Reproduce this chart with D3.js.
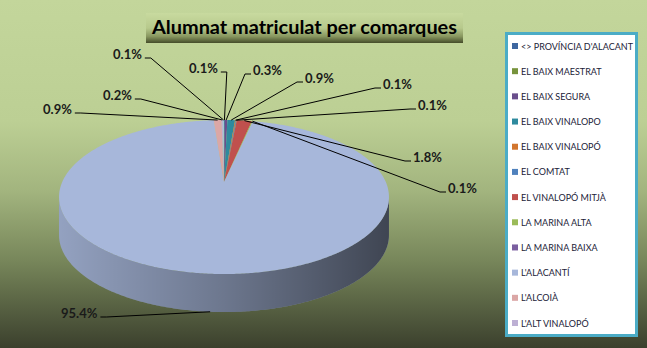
<!DOCTYPE html>
<html>
<head>
<meta charset="utf-8">
<script src="https://cdn.jsdelivr.net/npm/d3@7"></script>
<style>
  body { margin: 0; background: #fff; }
  svg { display: block; }
</style>
</head>
<body>
<div id="chart-area"></div>
<script>
var width = 647;
var height = 348;

// data (clockwise from 12 o'clock, Excel order)
var names = ["<> PROVÍNCIA D'ALACANT", "EL BAIX MAESTRAT", "EL BAIX SEGURA", "EL BAIX VINALOPO",
    "EL BAIX VINALOPÓ", "EL COMTAT", "EL VINALOPÓ MITJÀ", "LA MARINA ALTA", "LA MARINA BAIXA",
    "L'ALACANTÍ", "L'ALCOIÀ", "L'ALT VINALOPÓ"];
// last slice belongs to a row that falls below the clipped legend
var shares = [0.1, null, 0.3, 0.9, 0.1, 0.1, 1.8, 0.1, null, 95.4, 0.9, 0.2, 0.1];
var sliceColors = ["#3e67a0", "#77933c", "#6a4e8c", "#2e8a9e", "#d2762e", "#4f81bd", "#c0504d",
    "#9bbb59", "#7b5fa0", "#a7b7da", "#dba7a6", "#bdb0d4", "#93cddd"];
var title = "Alumnat matriculat per comarques";

// label text positions (left x, baseline y), one per labelled slice, in slice order
var labelAt = [[189, 73], [253, 75], [305, 83], [383, 89], [418, 110], [413, 162], [448, 193],
    [61, 318], [43, 114], [103, 100], [113, 59]];

var svg = d3.select("#chart-area").append("svg")
    .attr("width", width)
    .attr("height", height);

var defs = svg.append("defs");

var bg = defs.append("linearGradient").attr("id", "bg")
    .attr("x1", 0).attr("y1", 0).attr("x2", 0).attr("y2", 1);
[[0, "#c3d69b"], [0.35, "#bccf94"], [0.55, "#a2b47e"], [0.75, "#77865a"], [1, "#3b402d"]]
    .forEach((s) => { bg.append("stop").attr("offset", s[0]).attr("stop-color", s[1]); });

var tg = defs.append("linearGradient").attr("id", "titlebg")
    .attr("x1", 0).attr("y1", 0).attr("x2", 0).attr("y2", 1);
[[0, "#c8da9f"], [0.5, "#b7c98c"], [0.78, "#88975f"], [1, "#454c2a"]]
    .forEach((s) => { tg.append("stop").attr("offset", s[0]).attr("stop-color", s[1]); });

var sg = defs.append("linearGradient").attr("id", "side")
    .attr("gradientUnits", "userSpaceOnUse")
    .attr("x1", 60).attr("y1", 0).attr("x2", 388).attr("y2", 0);
[[0, 0.12], [0.5, 0.35], [1, 0.62]]
    .forEach((s) => { sg.append("stop").attr("offset", s[0]).attr("stop-color", "#000").attr("stop-opacity", s[1]); });

svg.append("rect")
    .attr("width", width)
    .attr("height", height)
    .attr("fill", "url(#bg)");

// title
svg.append("rect")
    .attr("x", 146).attr("y", 13)
    .attr("width", 317).attr("height", 30)
    .attr("fill", "url(#titlebg)");

svg.append("text")
    .attr("x", 152)
    .attr("y", 34)
    .attr("font-family", "Lato, 'Open Sans', sans-serif")
    .attr("font-weight", "bold")
    .attr("font-size", "19px")
    .attr("textLength", 305)
    .attr("lengthAdjust", "spacingAndGlyphs")
    .attr("fill", "#000")
    .text(title);

// 3D pie with perspective
var cx = 224, cy = 182, A = 161.8, B = 74.1, k = 0.195, depth = 38;

function proj(a, dy) {
    var w = 1 + k * Math.cos(a);
    return [cx + A * Math.sin(a) / w, cy - B * Math.cos(a) / w + (dy || 0)];
}

function arcPts(a0, a1, dy) {
    var n = Math.max(2, Math.ceil((a1 - a0) / 0.01));
    return d3.range(n + 1).map((i) => { return proj(a0 + (a1 - a0) * i / n, dy); });
}

var color = d3.scaleOrdinal()
    .domain(d3.range(shares.length))
    .range(sliceColors);

var pie = d3.pie()
    .sort(null)
    .value((d) => { return d || 0; });

var arcs = pie(shares).map((d, i) => { d.index = i; return d; });
var line = d3.line();

var frontLo = Math.acos(-k), frontHi = 2 * Math.PI - Math.acos(-k);

var gPie = svg.append("g");

// side wall (front half only)
arcs.forEach((d) => {
    var lo = Math.max(d.startAngle, frontLo), hi = Math.min(d.endAngle, frontHi);
    if (hi <= lo) return;
    var pts = arcPts(lo, hi, 0).concat(arcPts(lo, hi, depth).reverse());
    gPie.append("path").attr("d", line(pts) + "Z").attr("fill", color(d.index));
    gPie.append("path").attr("d", line(pts) + "Z").attr("fill", "url(#side)");
});

// top face
arcs.forEach((d) => {
    if (d.endAngle <= d.startAngle) return;
    var pts = [[cx, cy]].concat(arcPts(d.startAngle, d.endAngle, 0));
    gPie.append("path")
        .attr("d", line(pts) + "Z")
        .attr("fill", color(d.index));
});

// data labels with leader lines
var labelled = arcs.filter((d) => { return d.data != null; });
var fmt = d3.format(".1f");
var gLab = svg.append("g");

labelled.forEach((d, i) => {
    var mid = (d.startAngle + d.endAngle) / 2;
    var inFront = mid > frontLo && mid < frontHi;
    var p = proj(mid, inFront ? depth : 0);
    var pos = labelAt[i];

    var t = gLab.append("text")
        .attr("x", pos[0])
        .attr("y", pos[1])
        .attr("font-family", "Lato, 'Open Sans', sans-serif")
        .attr("font-weight", "bold")
        .attr("font-size", "13px")
        .attr("fill", "#1a1a1a")
        .text(fmt(d.data) + "%");
    var w = t.node().getComputedTextLength();

    var sx, ex, ly = pos[1] - 1;
    if (pos[0] + w / 2 < p[0]) { sx = pos[0] + w + 3; ex = sx + 6; }
    else { sx = pos[0] - 2; ex = sx - 6; }
    if (Math.abs(p[0] - (pos[0] + w / 2)) < 12) { ex = sx; }

    gLab.append("path")
        .attr("d", line([[sx, ly], [ex, ly], p]))
        .attr("fill", "none")
        .attr("stroke", "#000")
        .attr("stroke-width", 1);
});

// legend
var legend = svg.append("g");

legend.append("rect")
    .attr("x", 506.5).attr("y", 33.5)
    .attr("width", 130).attr("height", 302)
    .attr("fill", "#fff")
    .attr("stroke", "#4bacc6")
    .attr("stroke-width", 3);

var ly = d3.scalePoint()
    .domain(names)
    .range([46, 323]);

var items = legend.selectAll("g.item")
    .data(names)
    .enter()
    .append("g")
        .attr("class", "item")
        .attr("transform", (d) => { return "translate(0," + ly(d) + ")"; });

items.append("rect")
    .attr("x", 512).attr("y", -3)
    .attr("width", 6).attr("height", 6)
    .attr("fill", (d, i) => { return color(i); });

items.append("text")
    .attr("x", 521)
    .attr("y", 3.5)
    .attr("font-family", "Lato, 'Open Sans', sans-serif")
    .attr("font-size", "9px")
    .attr("fill", "#1b2238")
    .text((d) => { return d; });
</script>
</body>
</html>
